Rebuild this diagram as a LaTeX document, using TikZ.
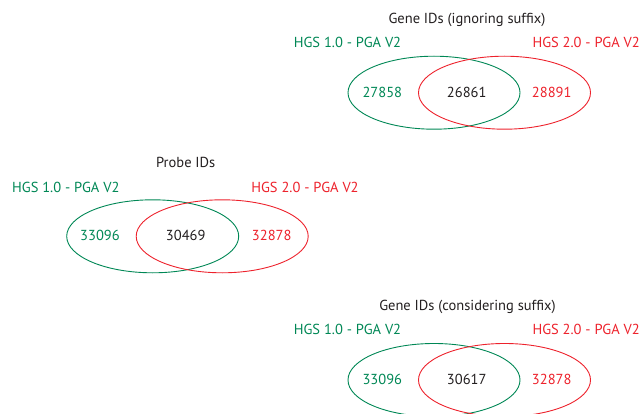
\documentclass[tikz,border=0pt]{standalone}
\usepackage{fontspec}
\setmainfont{PT Sans}
\usetikzlibrary{shapes.geometric}
\definecolor{setA}{RGB}{0,135,85}
\definecolor{setB}{RGB}{237,34,44}
\definecolor{ink}{RGB}{35,31,32}
\tikzset{
  x=1pt, y=1pt,
  circ/.style={ellipse, draw, line width=0.9pt, minimum width=172pt, minimum height=73pt, inner sep=0pt},
  circA/.style={circ, draw=setA},
  circB/.style={circ, draw=setB},
  txt/.style={font=\fontsize{14.5}{15}\selectfont, inner sep=0pt},
  txtA/.style={txt, text=setA},
  txtB/.style={txt, text=setB},
  txtK/.style={txt, text=ink},
}
\begin{document}
\begin{tikzpicture}
\useasboundingbox (0,0) rectangle (642,413);
\clip (0,0) rectangle (642,413);
% Gene IDs, ignoring suffix
\node[circA] (g1a) at (434,320.3) {};
\node[circB] (g1b) at (504.5,320.3) {};
\node[txtK] (g1t) at (467,393) {Gene IDs (ignoring suffix)};
\node[txtA] (g1la) at (347.5,370.3) {HGS 1.0 - PGA V2};
\node[txtB, anchor=west] (g1lb) at (532.3,370.3) {HGS 2.0 - PGA V2};
\node[txtA] (g1na) at (382.3,320.3) {27858};
\node[txtK] (g1nc) at (466.7,320.3) {26861};
\node[txtB] (g1nb) at (551.7,320.3) {28891};
% Probe IDs
\node[circA] (pa) at (152.7,176.7) {};
\node[circB] (pb) at (222.2,176.7) {};
\node[txtK] (pt) at (185.7,250.7) {Probe IDs};
\node[txtA] (pla) at (65.8,225.3) {HGS 1.0 - PGA V2};
\node[txtB] (plb) at (305,225.3) {HGS 2.0 - PGA V2};
\node[txtA] (pna) at (100,177.3) {33096};
\node[txtK] (pnc) at (185.7,177.3) {30469};
\node[txtB] (pnb) at (271.7,177.3) {32878};
% Gene IDs, considering suffix
\node[circA] (g2a) at (434,33) {};
\node[circB] (g2b) at (504.5,33) {};
\node[txtK] (g2t) at (467.5,106.3) {Gene IDs (considering suffix)};
\node[txtA] (g2la) at (347.5,83.7) {HGS 1.0 - PGA V2};
\node[txtB, anchor=west] (g2lb) at (532.3,83.7) {HGS 2.0 - PGA V2};
\node[txtA] (g2na) at (382.3,33.7) {33096};
\node[txtK] (g2nc) at (466.7,33.7) {30617};
\node[txtB] (g2nb) at (551.7,33.7) {32878};
\end{tikzpicture}
\end{document}
